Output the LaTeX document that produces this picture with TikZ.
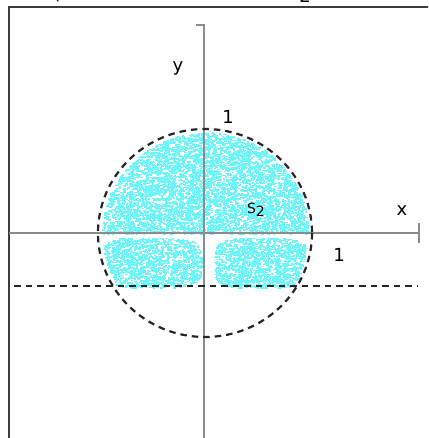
\documentclass[tikz,border=0pt]{standalone}
\usepackage{fontspec}
\setmainfont{DejaVu Sans}
\definecolor{dotc}{RGB}{110,245,250}
\definecolor{framec}{RGB}{60,60,60}
\definecolor{axisc}{RGB}{140,140,140}
\tikzset{
  framel/.style={draw=framec,line width=2pt},
  axisl/.style={draw=axisc,line width=1.8pt},
  dashl/.style={draw=black!85,line width=2.2pt,dash pattern=on 6.5pt off 5pt},
  lbl/.style={font=\fontsize{18}{18}\selectfont,inner sep=0pt,text=black},
}
\begin{document}
\begin{tikzpicture}[x=1pt,y=-1pt]
\useasboundingbox (0,0) rectangle (428,438);
\clip (0,0) rectangle (428,438);
% random scatter (cyan region)
\pgfmathsetseed{7}
\foreach \i in {1,...,12000}{%
  \pgfmathsetmacro\dx{212*rnd-106}%
  \pgfmathsetmacro\dy{160*rnd-104}%
  \pgfmathsetmacro\ok{ifthenelse(((\dx/103)^2+(\dy/101)^2<1) && ((\dy<0.5) || (((\dx+55)/51)^4+((\dy-29.5)/25)^4<1) || (((\dx-56)/47)^4+((\dy-29.5)/25)^4<1)),1,0)}%
  \ifdim\ok pt>0.5pt
    \pgfmathsetmacro\X{205+\dx}%
    \pgfmathsetmacro\Y{233+\dy}%
    \fill[dotc] (\X,\Y) rectangle ++(2.4,1.5);
  \fi
}
% frame
\coordinate (fbl) at (9,440);
\coordinate (ftl) at (9,7);
\coordinate (ftr) at (430,7);
\draw[framel] (fbl) -- (ftl) -- (ftr);
% axes
\coordinate (ytk) at (196,25);
\coordinate (ytop) at (204,25);
\coordinate (ybot) at (204,440);
\draw[axisl] (ytk) -- (ytop) -- (ybot);
\coordinate (xl) at (9,233);
\coordinate (xr) at (419,233);
\coordinate (xtu) at (419,223);
\coordinate (xtd) at (419,243);
\draw[axisl] (xl) -- (xr);
\draw[axisl] (xtu) -- (xtd);
% dashed circle
\coordinate (c0) at (205,233);
\draw[dashl] (c0) ellipse [x radius=107, y radius=104];
% dashed horizontal line
\coordinate (hl) at (14,286);
\coordinate (hr) at (418,286);
\draw[dashl] (hl) -- (hr);
% labels
\node[lbl] (ylab) at (178,68) {y};
\node[lbl] (one1) at (228,117) {1};
\node[lbl] (xlab) at (402,211) {x};
\node[lbl] (one2) at (339,255) {1};
\node[inner sep=0pt,font=\fontsize{14}{14}\selectfont] (s2) at (256,210) {S\raisebox{-0.4ex}{2}};
% cut-off fragments at the top
\node[lbl,anchor=base] (frag1) at (57,0) {(};
\node[lbl,anchor=base] (frag2) at (305,3) {2};
\end{tikzpicture}
\end{document}
